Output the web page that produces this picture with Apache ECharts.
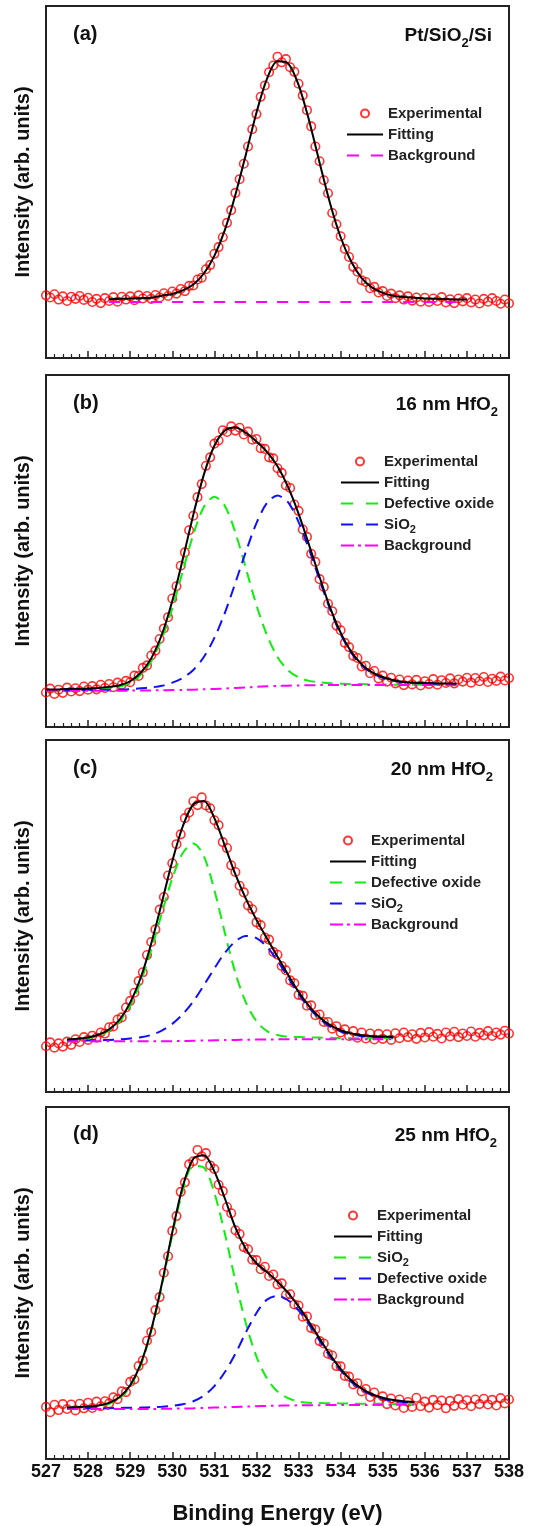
<!DOCTYPE html>
<html>
<head>
<meta charset="UTF-8">
<title>O 1s XPS spectra</title>
<script type="text/javascript" src="https://cdn.jsdelivr.net/npm/echarts@6/dist/echarts.min.js"></script>
<style>
  html, body { margin: 0; padding: 0; background: #fff; }
  #container { width: 534px; height: 1526px; }
</style>
</head>
<body>
<div id="container"></div>
<script type="text/javascript">
// measured spectra, 527.0 .. 538.0 eV every 0.1 eV
var expStart = 527.0, expStep = 0.1;
var expA = [17.8, 17.2, 18.1, 16.6, 17.5, 16.2, 17.4, 16.8, 17.6, 16.5,
            17.1, 15.9, 16.8, 15.6, 17.0, 16.2, 17.3, 16.0, 17.4, 16.6,
            17.5, 16.4, 17.8, 16.9, 17.6, 16.8, 17.9, 17.2, 18.4, 17.6,
            18.9, 18.3, 19.6, 19.0, 20.5, 20.6, 22.3, 22.8, 25.2, 26.4,
            29.6, 31.5, 34.3, 38.4, 42.0, 46.9, 50.8, 55.2, 60.1, 65.0,
            69.3, 74.2, 77.4, 81.2, 83.1, 85.6, 84.0, 84.9, 82.6, 81.3,
            77.9, 74.6, 70.4, 65.8, 60.1, 55.9, 50.5, 46.8, 41.2, 38.0,
            34.6, 31.0, 28.7, 25.9, 24.5, 22.1, 21.6, 19.8, 20.2, 18.6,
            19.0, 17.6, 18.3, 17.0, 17.8, 16.6, 17.5, 16.3, 17.2, 16.0,
            17.1, 15.9, 16.9, 16.2, 17.3, 15.8, 16.7, 15.6, 16.9, 16.1,
            17.0, 15.8, 16.6, 15.5, 16.8, 16.0, 17.0, 16.2, 15.4, 16.6,
            15.5];
var expB = [9.8, 10.9, 9.4, 10.6, 9.7, 11.2, 10.1, 11.0, 10.2, 11.5,
            10.6, 11.6, 10.7, 12.0, 11.1, 12.2, 11.3, 12.6, 12.0, 13.1,
            12.7, 14.6, 14.5, 16.8, 17.5, 20.3, 21.7, 25.0, 28.0, 31.2,
            36.5, 40.0, 45.8, 49.6, 55.9, 60.0, 65.3, 69.0, 74.2, 76.6,
            80.5, 81.4, 84.3, 83.8, 85.4, 84.2, 85.0, 83.1, 83.9, 81.6,
            81.8, 79.2, 79.0, 76.6, 76.3, 73.5, 72.2, 68.6, 67.9, 63.2,
            61.4, 56.1, 54.0, 49.2, 46.9, 42.0, 39.8, 35.0, 32.9, 28.8,
            27.5, 23.9, 22.7, 20.2, 19.6, 17.2, 17.4, 15.3, 15.9, 13.8,
            14.6, 12.9, 14.0, 12.4, 13.5, 11.9, 13.2, 12.1, 13.4, 11.8,
            13.0, 12.2, 13.6, 12.0, 13.3, 12.5, 13.8, 12.4, 13.5, 12.9,
            14.0, 12.6, 13.9, 13.0, 14.2, 12.8, 13.7, 13.1, 14.3, 13.2,
            13.9];
var expC = [13.0, 14.1, 12.6, 13.8, 12.9, 14.3, 13.4, 15.0, 14.2, 15.6,
            14.8, 16.0, 15.4, 16.9, 16.6, 18.4, 18.6, 20.6, 21.2, 24.0,
            25.9, 28.2, 31.5, 34.0, 38.9, 42.6, 46.2, 51.8, 55.4, 61.5,
            65.0, 70.4, 73.2, 77.8, 79.4, 82.6, 81.5, 83.7, 81.4, 80.6,
            77.2, 75.8, 71.0, 69.3, 64.4, 62.5, 58.6, 56.7, 53.0, 51.9,
            48.2, 47.4, 43.9, 43.3, 39.8, 39.0, 35.8, 34.6, 31.7, 30.9,
            27.6, 27.3, 24.5, 24.6, 21.8, 22.0, 19.9, 19.9, 18.0, 18.7,
            16.9, 17.8, 15.9, 17.3, 15.4, 16.9, 15.2, 16.6, 14.9, 16.5,
            15.1, 16.4, 14.8, 16.7, 15.3, 16.9, 15.6, 16.4, 15.1, 16.8,
            15.5, 17.0, 15.7, 16.5, 15.2, 16.9, 15.8, 17.1, 15.6, 16.6,
            15.9, 17.2, 15.7, 16.8, 16.1, 17.3, 15.9, 16.9, 16.3, 17.4,
            16.6];
var expD = [14.8, 13.3, 15.4, 13.9, 15.6, 14.2, 15.5, 13.8, 15.7, 14.4,
            16.0, 14.5, 16.3, 15.0, 16.4, 15.8, 17.5, 17.0, 19.2, 19.0,
            21.9, 22.6, 26.4, 28.0, 33.6, 36.1, 42.3, 46.0, 52.9, 57.6,
            64.8, 69.0, 75.9, 78.6, 83.7, 84.6, 87.8, 86.0, 86.9, 83.4,
            82.4, 77.9, 76.1, 71.6, 69.8, 65.0, 63.9, 60.2, 59.6, 56.6,
            56.5, 53.9, 54.6, 52.0, 52.4, 49.6, 49.9, 46.6, 46.8, 43.9,
            43.6, 40.4, 40.5, 37.2, 36.8, 33.5, 32.8, 29.9, 29.4, 26.4,
            26.3, 23.6, 23.4, 21.2, 21.5, 19.2, 19.9, 17.6, 18.9, 16.5,
            17.8, 15.6, 17.2, 15.2, 16.9, 14.5, 16.2, 14.8, 17.4, 15.0,
            16.3, 14.6, 16.8, 15.3, 16.6, 14.4, 16.5, 15.1, 17.0, 15.4,
            16.7, 15.0, 16.9, 15.6, 17.1, 15.5, 16.8, 15.2, 17.3, 15.8,
            16.9];

// fitted curves, every 0.25 eV from the given start
var fitStep = 0.25;
var fitStartA = 528.5;
var fitA = [16.7, 16.8, 16.9, 17.0, 17.1, 17.7, 18.2, 19.2, 20.9, 24.0,
            29.0, 36.4, 46.4, 57.9, 69.7, 79.3, 84.3, 83.7, 77.6, 67.5,
            55.5, 43.9, 34.3, 27.4, 22.7, 20.0, 18.5, 17.7, 17.3, 17.1,
            16.9, 16.8, 16.7, 16.6, 16.6];
var bgEnergyA = [528.5, 537.0];
var bgA = [15.9, 15.9];

var fitStartB = 527.0;
var fitB = [10.65, 10.65, 10.8, 10.8, 10.95, 11.1, 11.4, 11.85, 13.0, 15.4,
            19.5, 26.2, 35.8, 47.7, 60.3, 71.7, 79.9, 84.25, 85.1, 83.55,
            81.1, 78.15, 74.05, 68.2, 60.6, 51.7, 42.6, 33.9, 26.8, 21.4,
            17.8, 15.5, 14.2, 13.3, 12.8, 12.6, 12.5, 12.4, 12.35, 12.3];
var defectB = [10.5, 10.5, 10.6, 10.6, 10.7, 10.8, 11.1, 11.5, 12.6, 14.8,
               18.7, 25.0, 33.7, 44.3, 54.7, 62.5, 65.4, 62.8, 55.2, 45.0,
               34.6, 26.1, 19.9, 16.1, 14.1, 13.1, 12.7, 12.4, 12.3, 12.2,
               12.2, 12.1, 12.1, 12.0, 12.0, 12.0, 12.0, 11.95, 11.9, 11.9];
var sio2B = [10.45, 10.45, 10.5, 10.5, 10.55, 10.6, 10.6, 10.65, 10.75, 11.0,
             11.24, 11.7, 12.6, 13.95, 16.2, 19.9, 25.3, 32.45, 41.0, 49.85,
             57.9, 63.65, 65.75, 63.85, 58.3, 50.45, 41.8, 33.4, 26.4, 21.1,
             17.5, 15.3, 14.0, 13.2, 12.7, 12.5, 12.4, 12.3, 12.25, 12.2];
var bgB = [10.3, 10.3, 10.3, 10.3, 10.3, 10.3, 10.3, 10.3, 10.35, 10.4,
           10.4, 10.45, 10.5, 10.55, 10.6, 10.7, 10.8, 10.95, 11.1, 11.25,
           11.4, 11.55, 11.65, 11.75, 11.8, 11.85, 11.9, 11.9, 11.9, 11.9,
           11.9, 11.9, 11.9, 11.9, 11.9, 11.9, 11.9, 11.9, 11.9, 11.9];

var fitStartC = 527.5;
var fitC = [14.95, 15.1, 15.5, 16.25, 17.8, 20.55, 25.4, 32.45, 42.2, 53.7,
            65.55, 75.5, 81.75, 82.7, 77.8, 69.95, 61.8, 54.85, 48.9, 43.6,
            38.45, 33.3, 28.45, 24.4, 21.25, 19.0, 17.55, 16.65, 16.15, 15.85,
            15.75, 15.65];
var defectC = [14.75, 14.9, 15.3, 16.0, 17.4, 20.0, 24.6, 31.3, 40.4, 50.7,
               60.7, 67.9, 70.6, 67.0, 57.4, 45.2, 33.8, 25.4, 20.1, 17.3,
               16.2, 15.7, 15.6, 15.5, 15.45, 15.4, 15.35, 15.3, 15.3, 15.25,
               15.25, 15.2];
var sio2C = [14.6, 14.6, 14.65, 14.7, 14.8, 14.95, 15.2, 15.55, 16.2, 17.42,
             19.35, 22.1, 25.75, 30.32, 35.1, 39.55, 42.8, 44.35, 43.7, 41.22,
             37.25, 32.57, 27.9, 23.9, 20.8, 18.6, 17.2, 16.35, 15.85, 15.6,
             15.5, 15.45];
var bgC = [14.4, 14.4, 14.4, 14.4, 14.4, 14.4, 14.4, 14.4, 14.4, 14.42,
           14.45, 14.5, 14.55, 14.62, 14.7, 14.75, 14.8, 14.85, 14.9, 14.92,
           14.95, 14.97, 15.0, 15.0, 15.0, 15.0, 15.0, 15.0, 15.0, 15.0,
           15.0, 15.0];

var fitStartD = 527.5;
var fitD = [14.65, 14.75, 14.9, 15.2, 15.95, 17.6, 20.95, 27.0, 36.7, 49.65,
            64.4, 77.45, 85.3, 86.3, 81.7, 74.0, 65.7, 59.6, 55.6, 53.1,
            50.35, 47.2, 43.35, 38.9, 34.2, 29.6, 25.6, 22.35, 20.0, 18.4,
            17.4, 16.75, 16.4, 16.2];
var sio2D = [14.5, 14.6, 14.7, 15.0, 15.7, 17.3, 20.6, 26.6, 36.2, 49.05,
             63.6, 76.25, 83.3, 82.8, 75.6, 64.0, 50.6, 38.5, 29.1, 22.88,
             19.15, 17.3, 16.35, 15.98, 15.9, 15.82, 15.8, 15.75, 15.7, 15.67,
             15.68, 15.63, 15.65, 15.6];
var defectD = [14.35, 14.35, 14.4, 14.4, 14.45, 14.5, 14.55, 14.6, 14.7, 14.85,
               15.1, 15.55, 16.4, 18.0, 20.7, 24.7, 29.9, 36.0, 41.5, 45.28,
               46.35, 45.1, 42.25, 38.18, 33.6, 29.12, 25.15, 21.95, 19.65, 18.12,
               17.08, 16.48, 16.15, 16.0];
var bgD = [14.2, 14.2, 14.2, 14.2, 14.2, 14.2, 14.2, 14.2, 14.2, 14.25,
           14.3, 14.35, 14.4, 14.5, 14.6, 14.7, 14.8, 14.9, 15.0, 15.08,
           15.15, 15.2, 15.25, 15.28, 15.3, 15.32, 15.35, 15.35, 15.35, 15.37,
           15.38, 15.38, 15.4, 15.4];

var panelTags = ['(a)', '(b)', '(c)', '(d)'];
var panelTitles = ['Pt/SiO{s|2}/Si', '16 nm HfO{s|2}', '20 nm HfO{s|2}', '25 nm HfO{s|2}'];

var FONT = '"Liberation Sans", Arial, sans-serif';
var RED = '#ff0000', GREEN = '#10ee10', BLUE = '#1010ff', MAGENTA = '#ff00ff';

function pairs(start, step, values) {
    var out = [];
    for (var i = 0; i < values.length; i++) {
        out.push([Math.round((start + i * step) * 100) / 100, values[i]]);
    }
    return out;
}
function zip(xs, ys) {
    var out = [];
    for (var i = 0; i < xs.length; i++) out.push([xs[i], ys[i]]);
    return out;
}

var tops = [6, 375, 740, 1107];
var plotH = 352;

var grids = [], xAxes = [], yAxes = [], series = [], legends = [], graphics = [];

// legend placement per panel (icon left, first row top), icon width
var legendPos = [[346, 103], [340, 451], [329, 830], [333, 1205]];
var legendIconW = [36, 38, 36, 38];
var titleRight = [492, 498, 493, 497];
var titleY = [33, 402, 767, 1133];

function expSeries(p, i, data) {
    return {
        name: p + ':Experimental', type: 'scatter', xAxisIndex: i, yAxisIndex: i,
        data: pairs(expStart, expStep, data), symbol: 'circle', symbolSize: 8.5,
        itemStyle: {color: 'rgba(255,0,0,0)', borderColor: RED, borderWidth: 1.6},
        z: 2
    };
}
function lineSeries(p, label, i, data, color, dash, z) {
    return {
        name: p + ':' + label, type: 'line', xAxisIndex: i, yAxisIndex: i,
        data: data, symbol: 'none', showSymbol: false, smooth: 0.3,
        lineStyle: {color: color, width: 2, type: dash},
        itemStyle: {color: color},
        z: z
    };
}

for (var i = 0; i < 4; i++) {
    grids.push({left: 46, right: 25, top: tops[i], height: plotH, show: true,
                borderColor: '#222', borderWidth: 2, backgroundColor: 'transparent'});
    var last = (i === 3);
    xAxes.push({
        gridIndex: i, type: 'value', min: 527, max: 538, interval: 1,
        axisLine: {show: true, lineStyle: {color: '#222', width: 2}},
        axisTick: {show: true, inside: true, length: 7, lineStyle: {color: '#222', width: 1.5}},
        minorTick: {show: true, splitNumber: 5, length: 4, lineStyle: {color: '#222', width: 1.2}},
        splitLine: {show: false},
        axisLabel: {show: last, fontSize: 18, fontWeight: 'bold', color: '#111', fontFamily: FONT,
                    margin: 4, showMinLabel: true, showMaxLabel: true},
        name: last ? 'Binding Energy (eV)' : '',
        nameLocation: 'middle', nameGap: 44,
        nameTextStyle: {fontSize: 22, fontWeight: 'bold', color: '#111', fontFamily: FONT}
    });
    yAxes.push({
        gridIndex: i, type: 'value', min: 0, max: 100,
        axisLine: {show: false}, axisTick: {show: false}, axisLabel: {show: false},
        splitLine: {show: false},
        name: 'Intensity (arb. units)', nameLocation: 'middle', nameGap: 13,
        nameTextStyle: {fontSize: 20, fontWeight: 'bold', color: '#111', fontFamily: FONT}
    });

    graphics.push({
        type: 'text', x: 73, y: titleY[i] + 1,
        style: {text: panelTags[i], fill: '#111', fontSize: 20, fontWeight: 'bold', fontFamily: FONT,
                align: 'left', verticalAlign: 'middle'}
    });
    graphics.push({
        type: 'text', x: titleRight[i], y: titleY[i] + 3,
        style: {text: panelTitles[i], fill: '#111', fontSize: 19, fontWeight: 'bold', fontFamily: FONT,
                align: 'right', verticalAlign: 'middle', lineHeight: 28,
                rich: {s: {fontSize: 13, fontWeight: 'bold', fontFamily: FONT, fill: '#111',
                           lineHeight: 13, verticalAlign: 'bottom'}}}
    });
}

// panel (a)
series.push(expSeries('a', 0, expA));
series.push(lineSeries('a', 'Fitting', 0, pairs(fitStartA, fitStep, fitA), '#000', 'solid', 5));
series.push(lineSeries('a', 'Background', 0, zip(bgEnergyA, bgA), MAGENTA, [11, 10], 4));

// panels (b) and (c): defective oxide green, SiO2 blue
var bcSets = [
    ['b', 1, expB, fitStartB, fitB, defectB, sio2B, bgB],
    ['c', 2, expC, fitStartC, fitC, defectC, sio2C, bgC]
];
bcSets.forEach(function (s) {
    series.push(expSeries(s[0], s[1], s[2]));
    series.push(lineSeries(s[0], 'Fitting', s[1], pairs(s[3], fitStep, s[4]), '#000', 'solid', 5));
    series.push(lineSeries(s[0], 'Defective oxide', s[1], pairs(s[3], fitStep, s[5]), GREEN, [11, 7], 4));
    series.push(lineSeries(s[0], 'SiO2', s[1], pairs(s[3], fitStep, s[6]), BLUE, [11, 7], 4));
    series.push(lineSeries(s[0], 'Background', s[1], pairs(s[3], fitStep, s[7]), MAGENTA, [11, 5, 2.5, 5], 4));
});

// panel (d): SiO2 green, defective oxide blue
series.push(expSeries('d', 3, expD));
series.push(lineSeries('d', 'Fitting', 3, pairs(fitStartD, fitStep, fitD), '#000', 'solid', 5));
series.push(lineSeries('d', 'SiO2', 3, pairs(fitStartD, fitStep, sio2D), GREEN, [11, 7], 4));
series.push(lineSeries('d', 'Defective oxide', 3, pairs(fitStartD, fitStep, defectD), BLUE, [11, 7], 4));
series.push(lineSeries('d', 'Background', 3, pairs(fitStartD, fitStep, bgD), MAGENTA, [11, 5, 2.5, 5], 4));

var legendNames = [
    ['a:Experimental', 'a:Fitting', 'a:Background'],
    ['b:Experimental', 'b:Fitting', 'b:Defective oxide', 'b:SiO2', 'b:Background'],
    ['c:Experimental', 'c:Fitting', 'c:Defective oxide', 'c:SiO2', 'c:Background'],
    ['d:Experimental', 'd:Fitting', 'd:SiO2', 'd:Defective oxide', 'd:Background']
];
// legend icons: two long dashes, dash-dot for the background in (b)-(d)
function legendDash(name, k) {
    if (name.indexOf('Fitting') >= 0) return 'solid';
    if (name.indexOf('Background') >= 0) return k === 0 ? [12, 12] : [13, 4, 3, 4];
    return [12, 13];
}
for (var k = 0; k < 4; k++) {
    // hide the marker dot that line series put in the middle of their legend icon
    var items = legendNames[k].map(function (n) {
        if (n.indexOf('Experimental') >= 0) return {name: n};
        return {name: n, itemStyle: {opacity: 0}, lineStyle: {type: legendDash(n, k)}};
    });
    legends.push({
        data: items, orient: 'vertical', left: legendPos[k][0], top: legendPos[k][1],
        padding: 0, itemGap: 0, itemWidth: legendIconW[k], itemHeight: 8, itemTextGap: 5,
        selectedMode: false,
        textStyle: {fontSize: 15, fontWeight: 'bold', color: '#222', fontFamily: FONT, lineHeight: 21,
                    rich: {s: {fontSize: 11, fontWeight: 'bold', color: '#222', fontFamily: FONT,
                               lineHeight: 11, verticalAlign: 'bottom'}}},
        formatter: function (name) {
            var t = name.split(':')[1];
            return t === 'SiO2' ? 'SiO{s|2}' : t;
        }
    });
}

var chart = echarts.init(document.getElementById('container'));
chart.setOption({
    animation: false,
    backgroundColor: '#fff',
    grid: grids,
    xAxis: xAxes,
    yAxis: yAxes,
    legend: legends,
    graphic: graphics,
    series: series
});
</script>
</body>
</html>
